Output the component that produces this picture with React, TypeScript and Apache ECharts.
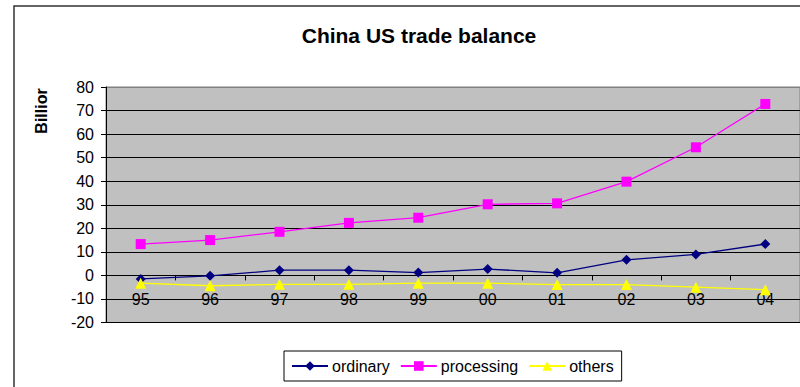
import React, { useEffect, useRef } from "react";
import * as echarts from "echarts";

const years = ["95", "96", "97", "98", "99", "00", "01", "02", "03", "04"];
const ordinary = [-1.5, -0.2, 2.2, 2.2, 1.2, 2.7, 1.1, 6.6, 8.9, 13.3];
const processing = [13.3, 15.0, 18.5, 22.3, 24.5, 30.2, 30.6, 39.8, 54.4, 72.8];
const others = [-3.3, -4.4, -3.8, -3.8, -3.3, -3.3, -3.9, -3.9, -5.0, -6.1];

const FONT = "Arial, 'Liberation Sans', sans-serif";

export default function App() {
  const ref = useRef<HTMLDivElement>(null);
  useEffect(() => {
    document.body.style.margin = "0";
    const chart = echarts.init(ref.current!, null, { renderer: "svg" });
    const mk = (name: string, data: number[], color: string, symbol: string, size: number) => ({
      name,
      type: "line",
      data,
      symbol,
      symbolSize: size,
      showSymbol: true,
      lineStyle: { color, width: 1.3 },
      itemStyle: { color, borderWidth: 0 },
      emphasis: { disabled: true },
    });
    const splitColors = ["#000", "#000", "#000", "#000", "#000", "#000", "#000", "#000", "#000", "#000", "#808080"];
    chart.setOption({
      animation: false,
      backgroundColor: "#ffffff",
      textStyle: { fontFamily: FONT },
      title: {
        text: "China US trade balance",
        left: 414,
        top: 20,
        textAlign: "center",
        textStyle: { fontFamily: FONT, fontSize: 21, fontWeight: "bold", color: "#000" },
      },
      graphic: [
        {
          type: "rect",
          shape: { x: 14, y: 6, width: 820, height: 400 },
          style: { fill: "none", stroke: "#333", lineWidth: 1.5 },
          z: 100,
          silent: true,
        },
        {
          type: "text",
          x: 41,
          y: 111,
          rotation: Math.PI / 2,
          style: {
            text: "Billior",
            font: `bold 16px ${FONT}`,
            fill: "#000",
            align: "center",
            verticalAlign: "middle",
          },
        },
      ],
      legend: {
        left: 284,
        top: 351,
        orient: "horizontal",
        borderColor: "#000",
        borderWidth: 1,
        padding: [7, 8, 7, 7],
        itemWidth: 36,
        itemHeight: 12,
        itemGap: 10,
        textStyle: { fontFamily: FONT, fontSize: 16, color: "#000", padding: [0, 0, 0, -1] },
        data: ["ordinary", "processing", "others"],
      },
      grid: {
        left: 106,
        right: -3,
        top: 87,
        bottom: 64.5,
        show: true,
        backgroundColor: "#C0C0C0",
        borderColor: "#808080",
        borderWidth: 1,
      },
      xAxis: {
        type: "category",
        data: years,
        boundaryGap: true,
        position: "bottom",
        offset: -47.1,
        axisLine: { onZero: false, lineStyle: { color: "#000", width: 1 } },
        axisTick: { show: true, inside: false, length: 5, lineStyle: { color: "#000" } },
        axisLabel: { fontFamily: FONT, fontSize: 16, color: "#000", margin: 16 },
        splitLine: { show: false },
      },
      yAxis: {
        type: "value",
        min: -20,
        max: 80,
        interval: 10,
        axisLine: { show: true, lineStyle: { color: "#000", width: 1 } },
        axisTick: { show: true, length: 5, lineStyle: { color: "#000" } },
        axisLabel: { fontFamily: FONT, fontSize: 16, color: "#000", margin: 12 },
        splitLine: { show: true, lineStyle: { color: splitColors, width: 1 } },
      },
      series: [
        mk("ordinary", ordinary, "#000080", "diamond", 10),
        mk("processing", processing, "#FF00FF", "rect", 10),
        mk("others", others, "#FFFF00", "triangle", 11),
      ],
    });
    return () => chart.dispose();
  }, []);
  return (
    <div
      ref={ref}
      style={{ position: "fixed", left: 0, top: 0, width: 800, height: 387 }}
    />
  );
}
